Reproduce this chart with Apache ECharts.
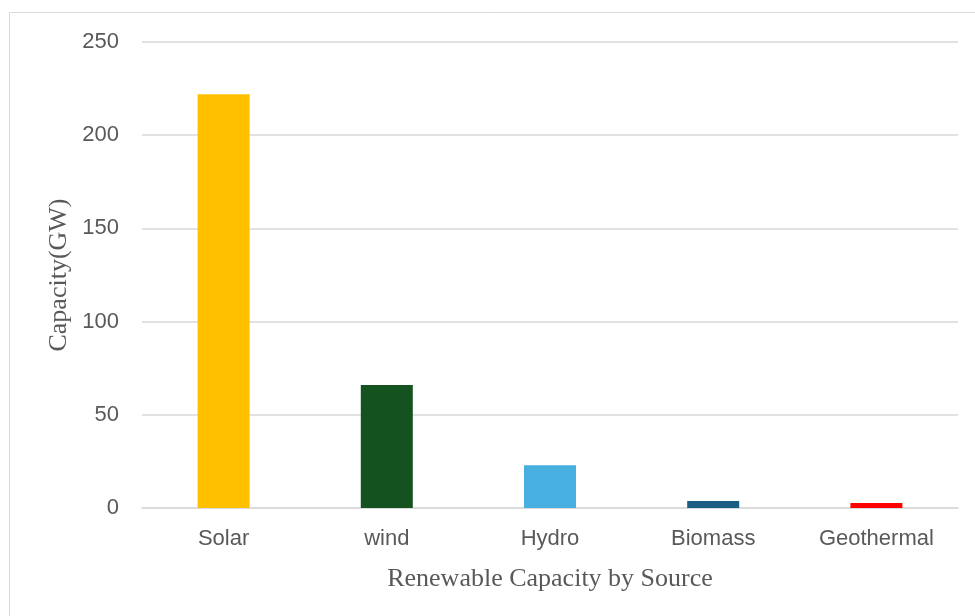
<!DOCTYPE html>
<html>
<head>
<meta charset="utf-8">
<script src="https://cdn.jsdelivr.net/npm/echarts@6/dist/echarts.min.js"></script>
<style>
  html, body { margin: 0; padding: 0; background: #fff; }
  #chart { width: 975px; height: 616px; }
</style>
</head>
<body>
<div id="chart"></div>
<script>
// chart data
const sources = ['Solar', 'wind', 'Hydro', 'Biomass', 'Geothermal'];
const capacity = [222, 66, 23, 3.8, 2.7];
const barColors = ['#FFC000', '#145220', '#47B0E0', '#1A5E82', '#FF0000'];
const yTicks = { min: 0, max: 250, interval: 50 };

const chart = echarts.init(document.getElementById('chart'));

chart.setOption({
    animation: false,
    graphic: [
        {
            type: 'rect',
            shape: { x: 9.5, y: 12.5, width: 1000, height: 700 },
            style: { fill: 'none', stroke: '#D9D9D9', lineWidth: 1 },
            silent: true
        }
    ],
    grid: { left: 142, right: 17, top: 42, bottom: 108 },
    xAxis: {
        type: 'category',
        data: sources,
        name: 'Renewable Capacity by Source',
        nameLocation: 'middle',
        nameGap: 58,
        nameMoveOverlap: false,
        nameTextStyle: { fontFamily: 'Liberation Serif', fontSize: 26, color: '#595959' },
        axisLine: { lineStyle: { color: '#D9D9D9', width: 1.5 } },
        axisTick: { show: false },
        axisLabel: { fontFamily: 'Liberation Sans', fontSize: 22, color: '#595959', margin: 20 }
    },
    yAxis: {
        type: 'value',
        min: yTicks.min,
        max: yTicks.max,
        interval: yTicks.interval,
        name: 'Capacity(GW)',
        nameLocation: 'middle',
        nameGap: 70,
        nameMoveOverlap: false,
        nameTextStyle: { fontFamily: 'Liberation Serif', fontSize: 26, color: '#595959' },
        axisLine: { show: false },
        axisTick: { show: false },
        splitLine: { lineStyle: { color: '#D9D9D9', width: 1.5 } },
        axisLabel: { fontFamily: 'Liberation Sans', fontSize: 22, color: '#595959', margin: 23 }
    },
    series: [
        {
            type: 'bar',
            barWidth: 52,
            data: capacity.map((v, i) => ({ value: v, itemStyle: { color: barColors[i] } }))
        }
    ]
});
</script>
</body>
</html>
